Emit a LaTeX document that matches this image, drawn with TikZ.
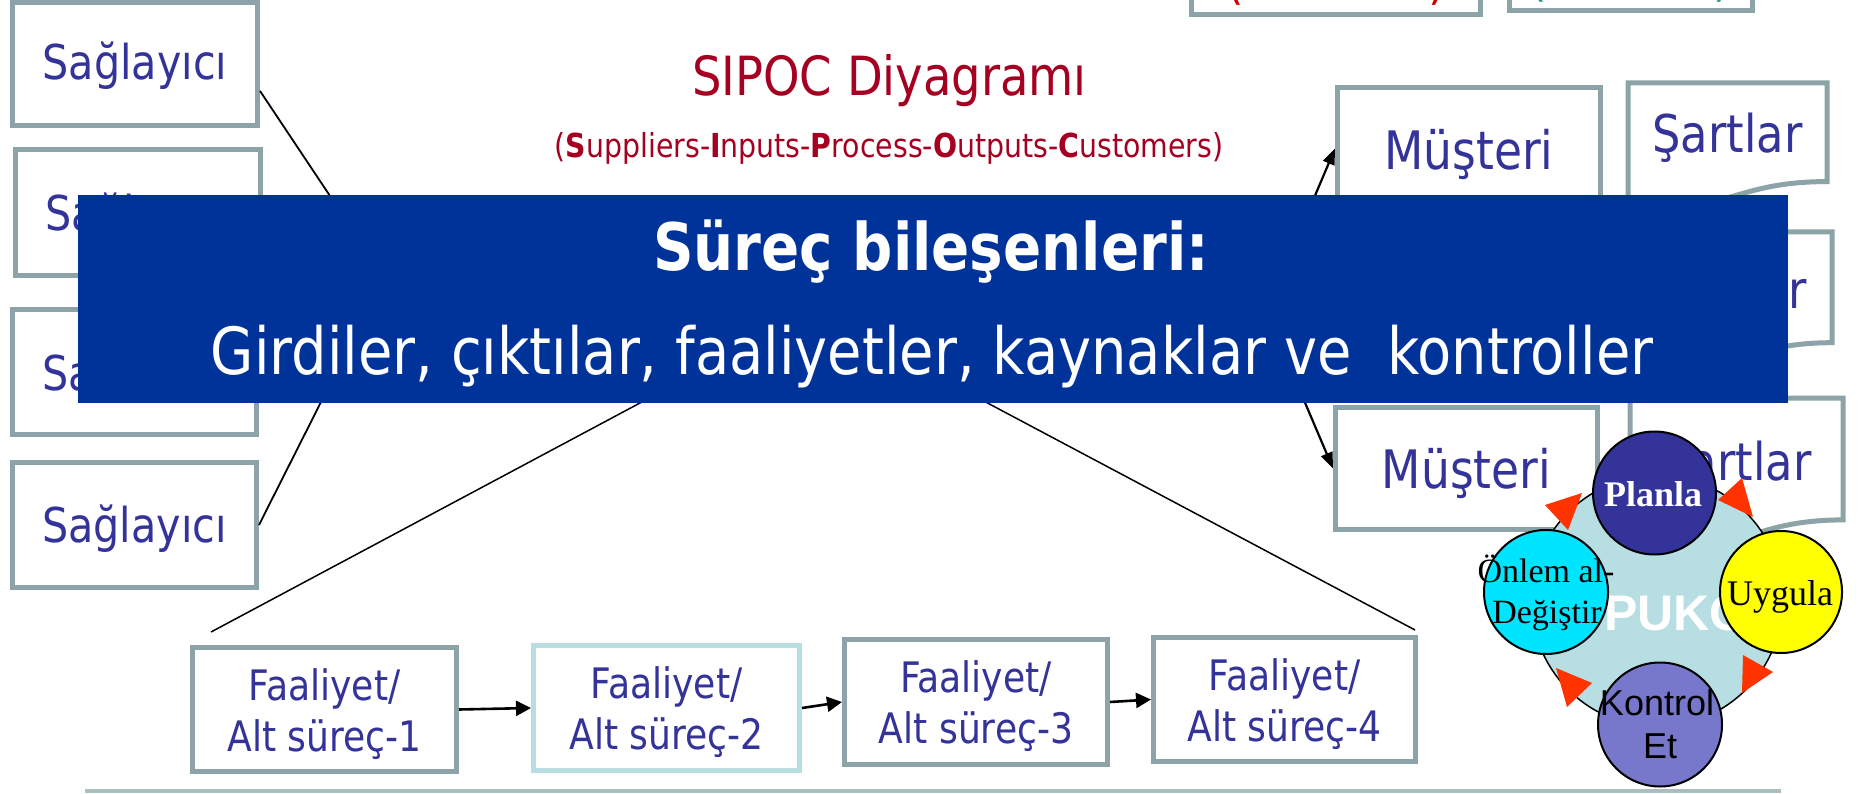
\documentclass[tikz,border=0pt]{standalone}
\usepackage{fontspec}
\setmainfont{DejaVu Sans}[FakeStretch=0.86]
\newfontfamily\timesF{Liberation Serif}
\newfontfamily\arialF{Liberation Sans}
\usetikzlibrary{arrows.meta,calc}
\definecolor{boxgray}{HTML}{8CA4A7}
\definecolor{boxlight}{HTML}{B7DEE1}
\definecolor{txtblue}{HTML}{333399}
\definecolor{bannerblue}{HTML}{003399}
\definecolor{titlered}{HTML}{A50021}
\definecolor{rulegray}{HTML}{A9BEC0}
\definecolor{pukobg}{HTML}{B7DEE2}
\definecolor{planlac}{HTML}{333399}
\definecolor{onlemc}{HTML}{00E5FF}
\definecolor{uygulac}{HTML}{FFFF00}
\definecolor{kontrolc}{HTML}{7777CC}
\definecolor{arrred}{HTML}{FF3300}
\definecolor{parred}{HTML}{CC0000}
\definecolor{pargreen}{HTML}{339966}
\newcommand{\fsz}[2]{\fontsize{#1}{#2}\selectfont}
\begin{document}
\begin{tikzpicture}[x=1pt,y=-1pt,
  gbox/.style={draw=boxgray, line width=5pt, fill=white, inner sep=0pt},
  docline/.style={draw=boxgray, line width=5pt, fill=white},
  btxt/.style={anchor=base, text=txtblue, inner sep=0pt},
  stxt/.style={btxt, font=\fsz{48}{58}},
  mtxt/.style={btxt, font=\fsz{53}{64}},
  ftxt/.style={btxt, font=\fsz{42}{51}},
  thinline/.style={line width=1.8pt, draw=black},
  zline/.style={line width=1.5pt, draw=black},
  arr/.style={line width=2.2pt, -{Triangle[length=16pt,width=12pt]}},
  farr/.style={line width=2.6pt, -{Triangle[length=15pt,width=15pt]}},
  pcirc/.style={circle, draw=black, line width=2pt, inner sep=0pt},
  redtri/.style={fill=arrred, draw=none},
]
\useasboundingbox (0,0) rectangle (1865,794);
\fill[white] (0,0) rectangle (1865,794);

% top partial boxes
\node[gbox, minimum width=289pt, minimum height=75pt] (tA) at (1336,-23) {};
\node[gbox, minimum width=243pt, minimum height=74pt] (tB) at (1631,-26) {};
\node[anchor=base, text=parred, font=\fsz{52}{60}, inner sep=0pt] (pa1) at (1235,-1) {(};
\node[anchor=base, text=parred, font=\fsz{52}{60}, inner sep=0pt] (pa2) at (1437,-1) {)};
\node[anchor=base, text=pargreen, font=\fsz{52}{60}, inner sep=0pt] (pb1) at (1538,-4) {(};
\node[anchor=base, text=pargreen, font=\fsz{52}{60}, inner sep=0pt] (pb2) at (1722,-4) {)};

% suppliers
\node[gbox, minimum width=245pt, minimum height=123pt] (s1) at (135,64) {};
\node[gbox, minimum width=245pt, minimum height=126pt] (s2) at (138,212.5) {};
\node[gbox, minimum width=244pt, minimum height=125pt] (s3) at (134.5,372) {};
\node[gbox, minimum width=244pt, minimum height=125pt] (s4) at (134.5,525) {};
\node[stxt] (s1t) at (135,80) {Sağlayıcı};
\node[stxt] (s2t) at (138,231) {Sağlayıcı};
\node[stxt] (s3t) at (134.5,390) {Sağlayıcı};
\node[stxt] (s4t) at (134.5,542.5) {Sağlayıcı};

\coordinate (pin) at (384,277);
\draw[thinline] ([yshift=-27pt]s1.east) -- (pin);
\draw[thinline] (s2.east) -- (pin);
\draw[thinline] (s3.east) -- (pin);
\draw[thinline] (s4.east) -- (pin);

% title
\node[anchor=base, text=titlered, font=\fsz{54}{62}, inner sep=0pt] (title) at (889.5,96) {SIPOC Diyagramı};
\node[anchor=base, text=titlered, font=\fsz{33}{40}, inner sep=0pt] (subtitle) at (889,158)
  {(\textbf{S}uppliers-\textbf{I}nputs-\textbf{P}rocess-\textbf{O}utputs-\textbf{C}ustomers)};

% customers
\node[gbox, minimum width=263pt, minimum height=122pt] (m1) at (1469,148.5) {};
\node[gbox, minimum width=262pt, minimum height=122pt] (m2) at (1466.5,468.5) {};
\node[mtxt] (m1t) at (1469,170) {Müşteri};
\node[mtxt] (m2t) at (1466.5,488) {Müşteri};

% requirement documents
\path[docline] (1628,83) -- (1827,83) -- (1827,181.6)
  .. controls (1727.5,181.6) and (1727.5,219.2) .. (1628,197.9) -- cycle;
\path[docline] (1632,232) -- (1832,232) -- (1832,342.7)
  .. controls (1732,342.7) and (1732,384.8) .. (1632,360.9) -- cycle;
\path[docline] (1630,398) -- (1843,398) -- (1843,519.9)
  .. controls (1736.5,519.9) and (1736.5,566.3) .. (1630,540) -- cycle;
\node[btxt, font=\fsz{52}{62}] (r1t) at (1727.5,153) {Şartlar};
\node[btxt, font=\fsz{52}{62}] (r2t) at (1732,308) {Şartlar};
\node[btxt, font=\fsz{52}{62}] (r3t) at (1736.5,480) {Şartlar};

\coordinate (pout) at (1266,311);
\draw[arr] (pout) -- (m1.west);
\draw[arr] (pout) -- (m2.west);

% zoom lines
\coordinate (zt1) at (728,356);
\coordinate (zb1) at (211,632);
\coordinate (zt2) at (899,356);
\coordinate (zb2) at (1415,630);
\draw[zline] (zt1) -- (zb1);
\draw[zline] (zt2) -- (zb2);

% sub-process boxes
\node[gbox, minimum width=264pt, minimum height=124pt] (f1) at (324.5,709.5) {};
\node[gbox, draw=boxlight, minimum width=266pt, minimum height=125pt] (f2) at (666.5,708) {};
\node[gbox, minimum width=263pt, minimum height=125pt] (f3) at (976,702) {};
\node[gbox, minimum width=262pt, minimum height=124pt] (f4) at (1284.5,699.5) {};
\node[ftxt] (f1a) at (324.5,700) {Faaliyet/};
\node[ftxt] (f1b) at (324.5,751) {Alt süreç-1};
\node[ftxt] (f2a) at (666.5,698) {Faaliyet/};
\node[ftxt] (f2b) at (666.5,749) {Alt süreç-2};
\node[ftxt] (f3a) at (976,692) {Faaliyet/};
\node[ftxt] (f3b) at (976,743) {Alt süreç-3};
\node[ftxt] (f4a) at (1284.5,690) {Faaliyet/};
\node[ftxt] (f4b) at (1284.5,741) {Alt süreç-4};
\draw[farr] (f1.east) -- (f2.west);
\draw[farr] (f2.east) -- (f3.west);
\draw[farr] (f3.east) -- (f4.west);

% banner
\node[fill=bannerblue, minimum width=1710pt, minimum height=208pt, inner sep=0pt] (banner) at (933,299) {};
\node[anchor=base, text=white, font=\bfseries\fsz{65.5}{76}, inner sep=0pt] (bt1) at (931,270) {Süreç bileşenleri:};
\node[anchor=base, text=white, font=\fsz{65}{76}, inner sep=0pt] (bt2) at (932,374)
  {Girdiler, çıktılar, faaliyetler, kaynaklar ve\ \ kontroller};

% bottom rule
\coordinate (ru1) at (85,791);
\coordinate (ru2) at (1781,791);
\draw[rulegray, line width=3.5pt] (ru1) -- (ru2);

% PUKO cycle
\node[circle, draw=black, line width=1.5pt, fill=pukobg, minimum size=251pt, inner sep=0pt] (puko) at (1657,601) {};
\node[anchor=base west, text=white, font=\arialF\bfseries\fsz{50}{58}, inner sep=0pt] (pukot) at (1604,630) {PUKO};
\fill[redtri] (1582,493) -- (1545,505) -- (1568,530) -- cycle;
\fill[redtri] (1742,478) -- (1753,517) -- (1718,500) -- cycle;
\fill[redtri] (1743,655) -- (1773,672) -- (1742,693) -- cycle;
\fill[redtri] (1556,668) -- (1592,683) -- (1567,707) -- cycle;
\node[pcirc, fill=planlac, minimum size=123pt] (planla) at (1654.5,493) {};
\node[anchor=base, text=white, font=\timesF\bfseries\fsz{36}{42}, inner sep=0pt] (planlat) at (1653,506) {Planla};
\node[pcirc, fill=uygulac, minimum size=122pt] (uygula) at (1781,592) {};
\node[anchor=base, text=black, font=\timesF\fsz{36}{42}, inner sep=0pt] (uygulat) at (1780,605) {Uygula};
\node[pcirc, fill=kontrolc, minimum size=124pt] (kontrol) at (1660,724.5) {};
\node[anchor=base, text=black, font=\arialF\fsz{36}{42}, inner sep=0pt] (kontrolt) at (1657,715) {Kontrol};
\node[anchor=base, text=black, font=\arialF\fsz{36}{42}, inner sep=0pt] (kontrolt2) at (1660,758) {Et};
\node[pcirc, fill=onlemc, minimum size=124pt] (onlem) at (1546,592) {};
\node[anchor=base, text=black, font=\timesF\fsz{34}{40}, inner sep=0pt] (onlemt) at (1546,582) {Önlem al-};
\node[anchor=base, text=black, font=\timesF\fsz{34}{40}, inner sep=0pt] (onlemt2) at (1547,623) {Değiştir};
\end{tikzpicture}
\end{document}
